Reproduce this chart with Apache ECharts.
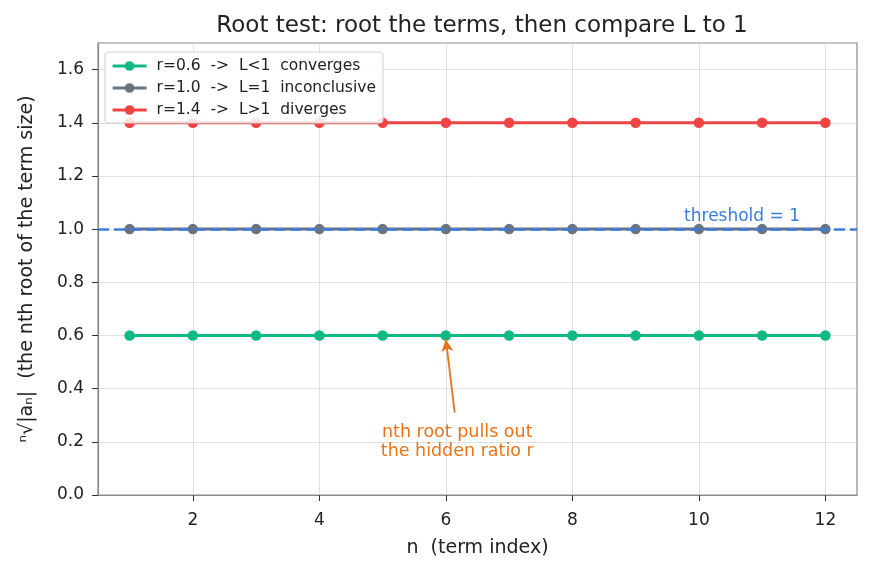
<!DOCTYPE html>
<html>
<head>
<meta charset="utf-8">
<script src="https://cdn.jsdelivr.net/npm/echarts@6/dist/echarts.min.js"></script>
<style>
  html, body { margin: 0; padding: 0; background: #fff; }
  #chart { width: 871px; height: 569px; }
</style>
</head>
<body>
<div id="chart"></div>
<script>
// values
const termIndex = [1, 2, 3, 4, 5, 6, 7, 8, 9, 10, 11, 12];
const rootConv = [0.6, 0.6, 0.6, 0.6, 0.6, 0.6, 0.6, 0.6, 0.6, 0.6, 0.6, 0.6];
const rootIncon = [1.0, 1.0, 1.0, 1.0, 1.0, 1.0, 1.0, 1.0, 1.0, 1.0, 1.0, 1.0];
const rootDiv = [1.4, 1.4, 1.4, 1.4, 1.4, 1.4, 1.4, 1.4, 1.4, 1.4, 1.4, 1.4];
const xTicks = [2, 4, 6, 8, 10, 12];
const yTicks = [0, 0.2, 0.4, 0.6, 0.8, 1.0, 1.2, 1.4, 1.6];
const seriesNames = [
  "r=0.6  ->  L<1  converges",
  "r=1.0  ->  L=1  inconclusive",
  "r=1.4  ->  L>1  diverges"
];
const threshold = 1.0;
const arrowFrom = [6.14, 0.31];
const arrowTo = [6.0, 0.585];
const notePos = [6.18, 0.2];

const font = "DejaVu Sans";
const pairs = (ys) => termIndex.map((x, i) => [x, ys[i]]);

const chart = echarts.init(document.getElementById("chart"));

const lineSeries = (name, ys, color) => ({
  name: name,
  type: "line",
  data: pairs(ys),
  symbol: "circle",
  symbolSize: 10.5,
  lineStyle: { width: 3, color: color },
  itemStyle: { color: color },
  z: 3
});

const option = {
  animation: false,
  title: {
    text: "Root test: root the terms, then compare L to 1",
    left: 477,
    top: 10,
    textAlign: "center",
    textStyle: { fontFamily: font, fontSize: 23, fontWeight: "normal", color: "#222" }
  },
  grid: {
    left: 98, right: 14, top: 43, bottom: 74,
    show: true, borderColor: "#8a8a8a", borderWidth: 1.2
  },
  legend: {
    orient: "vertical",
    left: 105, top: 52,
    padding: [6, 7, 5, 6],
    itemGap: 6,
    itemWidth: 34, itemHeight: 12,
    lineStyle: { width: 3.2 },
    backgroundColor: "rgba(255,255,255,0.85)",
    borderColor: "#d0d0d0", borderWidth: 1, borderRadius: 3,
    textStyle: { fontFamily: font, fontSize: 15.5, color: "#222", padding: [0, 0, 0, 5] },
    data: seriesNames
  },
  xAxis: {
    type: "value",
    min: 0.5, max: 12.5,
    name: "n  (term index)",
    nameLocation: "middle",
    nameGap: 44,
    nameTextStyle: { fontFamily: font, fontSize: 19, color: "#222" },
    axisLine: { show: true, lineStyle: { color: "#8a8a8a", width: 1.2 } },
    axisTick: { show: true, length: 6, customValues: xTicks, lineStyle: { color: "#333" } },
    axisLabel: { customValues: xTicks, margin: 17, fontFamily: font, fontSize: 17, color: "#222" },
    splitLine: { show: true, lineStyle: { color: "#d8d8d8", width: 0.8 } }
  },
  yAxis: {
    type: "value",
    min: 0, max: 1.7,
    name: "ⁿ√|aₙ|  (the nth root of the term size)",
    nameLocation: "middle",
    nameRotate: 90,
    nameGap: 61,
    nameTextStyle: { fontFamily: font, fontSize: 19, color: "#222" },
    axisLine: { show: true, lineStyle: { color: "#8a8a8a", width: 1.2 } },
    axisTick: { show: true, length: 6, customValues: yTicks, lineStyle: { color: "#333" } },
    axisLabel: {
      customValues: yTicks, margin: 14, fontFamily: font, fontSize: 17, color: "#222",
      formatter: (v) => v.toFixed(1)
    },
    splitLine: { show: true, lineStyle: { color: "#d8d8d8", width: 0.8 } }
  },
  series: [
    lineSeries(seriesNames[0], rootConv, "#10b981"),
    lineSeries(seriesNames[1], rootIncon, "#6b7280"),
    lineSeries(seriesNames[2], rootDiv, "#ef4444"),
    {
      // threshold line + annotation arrow/text
      type: "line",
      data: [],
      z: 4,
      markLine: {
        silent: true,
        symbol: ["none", "none"],
        data: [
          {
            yAxis: threshold,
            lineStyle: { color: "#3b7dd8", width: 2.5, type: [11, 5] },
            label: {
              show: true,
              position: "insideEndTop",
              distance: [57, 4],
              formatter: "threshold = 1",
              fontFamily: font, fontSize: 17, color: "#3b7dd8"
            }
          },
          [
            {
              coord: arrowFrom,
              symbol: "none",
              lineStyle: { color: "#ea7317", width: 1.8, type: "solid" },
              label: { show: false }
            },
            { coord: arrowTo, symbol: "arrow", symbolSize: [9, 12] }
          ]
        ]
      },
      markPoint: {
        silent: true,
        symbol: "circle",
        symbolSize: 0,
        data: [
          {
            coord: notePos,
            label: {
              show: true,
              position: "inside",
              formatter: "nth root pulls out\nthe hidden ratio r",
              align: "center",
              lineHeight: 19,
              fontFamily: font, fontSize: 17.5, color: "#ea7317"
            }
          }
        ]
      }
    }
  ]
};

chart.setOption(option);
</script>
</body>
</html>
